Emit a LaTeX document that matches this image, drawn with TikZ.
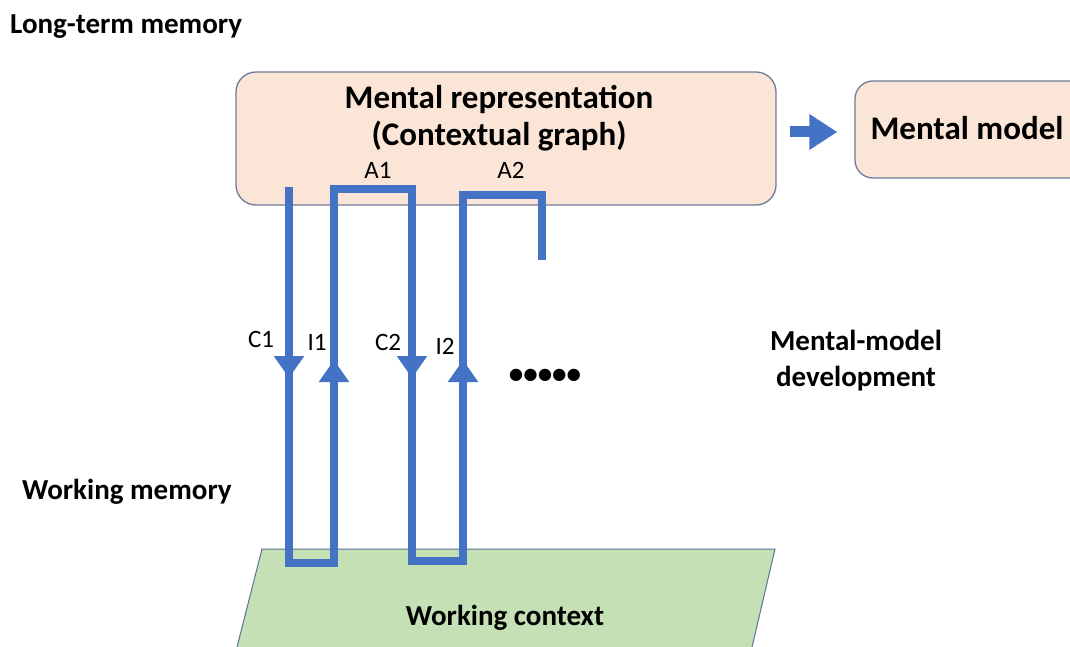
\documentclass[tikz,border=0pt]{standalone}
\usepackage{fontspec}
\setmainfont{Carlito}
\usetikzlibrary{arrows.meta}
\definecolor{peach}{HTML}{FBE5D6}
\definecolor{peachedge}{HTML}{6E7C99}
\definecolor{greenfill}{HTML}{C5E0B4}
\definecolor{greenedge}{HTML}{5A7396}
\definecolor{flow}{HTML}{4472C4}
\begin{document}
\begin{tikzpicture}[x=1pt,y=-1pt,
  box/.style={draw=peachedge, line width=1.3pt, fill=peach, rounded corners=20pt, inner sep=0pt},
  boxtext/.style={font=\fontsize{33}{37}\selectfont\bfseries, align=center, inner sep=0pt},
  side/.style={font=\fontsize{29}{36}\selectfont\bfseries, align=center, inner sep=0pt},
  lbl/.style={font=\fontsize{25}{28}\selectfont, inner sep=0pt},
  flowline/.style={draw=flow, line width=8pt, miter limit=10},
  midtip/.style={draw=flow, line width=8pt, -{Triangle[length=22pt,width=29pt]}},
  bigarrow/.style={draw=flow, line width=11pt, -{Triangle[length=28pt,width=34pt]}}
]
\useasboundingbox (0,0) rectangle (1070,647);
\fill[white] (0,0) rectangle (1070,647);
\clip (0,0) rectangle (1070,647);

% working context
\draw[fill=greenfill, draw=greenedge, line width=1pt]
  (262,549) -- (775,549) -- (749,660) -- (233.7,660) -- cycle;
\node[side] (wc) at (505,618) {Working context};

% boxes
\node[box, minimum width=540pt, minimum height=133pt] (rep) at (506,138.5) {};
\node[boxtext] (reptext) at (499,118) {Mental representation\\(Contextual graph)};
\node[box, rounded corners=18pt, minimum width=245pt, minimum height=97pt] (model) at (977.5,129.5) {};
\node[boxtext, anchor=center] (modeltext) at (967,128) {Mental model};
\draw[bigarrow] ([xshift=13pt,yshift=6.5pt]rep.east) -- ([xshift=-17pt,yshift=6.5pt]rep.east -| model.west);

% cycle path
\coordinate (p0) at (289,187);
\coordinate (p1) at (289,563);
\coordinate (p2) at (334,563);
\coordinate (p3) at (334,189);
\coordinate (p4) at (412,189);
\coordinate (p5) at (412,561);
\coordinate (p6) at (463,561);
\coordinate (p7) at (463,195);
\coordinate (p8) at (542,195);
\coordinate (p9) at (542,260);
\draw[flowline] (p0) -- (p1) -- (p2) -- (p3) -- (p4) -- (p5) -- (p6) -- (p7) -- (p8) -- (p9);
\draw[midtip] (289,330) -- (289,378);
\draw[midtip] (334,410) -- (334,360);
\draw[midtip] (412,330) -- (412,378);
\draw[midtip] (463,410) -- (463,360);

% labels
\node[lbl] (a1) at (378,170) {A1};
\node[lbl] (a2) at (511,170) {A2};
\node[lbl] (c1) at (261,339) {C1};
\node[lbl] (i1) at (317,342) {I1};
\node[lbl] (c2) at (388,342) {C2};
\node[lbl] (i2) at (445,346) {I2};
\node[font=\fontsize{29}{30}\selectfont\bfseries, inner sep=0pt] (dots) at (545,376) {•••••};

\node[side] (mmd) at (856,361) {Mental-model\\development};
\node[side, anchor=west] (ltm) at (10,27) {Long-term memory};
\node[side, anchor=west] (wm) at (22,492) {Working memory};
\end{tikzpicture}
\end{document}
